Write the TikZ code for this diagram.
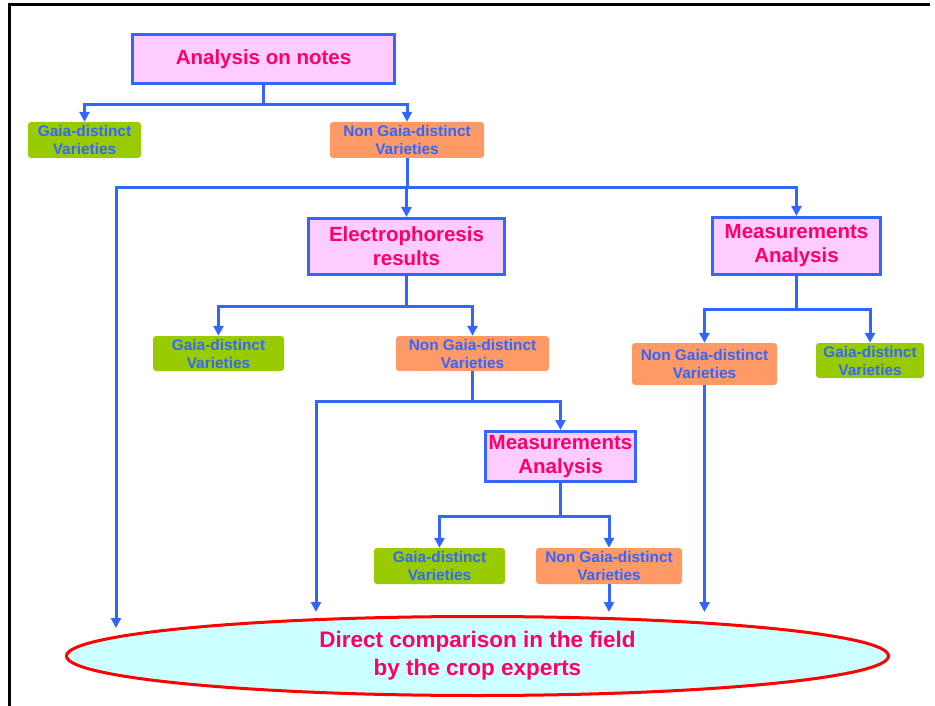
\documentclass[tikz,border=0pt]{standalone}
\usepackage{fontspec}
\setmainfont{Liberation Sans}
\usetikzlibrary{arrows.meta,shapes.geometric,calc}
\definecolor{linkblue}{HTML}{3366FF}
\definecolor{boxpink}{HTML}{FFCCFF}
\definecolor{headred}{HTML}{FF0066}
\definecolor{gaiagreen}{HTML}{99CC00}
\definecolor{nongaiaorange}{HTML}{FF9966}
\definecolor{fieldcyan}{HTML}{CCFFFF}

\begin{document}
\begin{tikzpicture}[x=1pt,y=-1pt,
    conn/.style={draw=linkblue,line width=3pt},
    arr/.style={conn,-{Triangle[length=10pt,width=10pt]}},
    stage/.style={draw=linkblue,line width=3pt,fill=boxpink,text=headred,
      font=\fontsize{20.5}{24}\selectfont\bfseries,align=center,inner sep=0pt},
    variety/.style={rounded corners=3pt,text=linkblue,inner sep=0pt,
      font=\fontsize{15.4}{18}\selectfont\bfseries,align=center,minimum height=36pt},
    gaia/.style={variety,fill=gaiagreen},
    nongaia/.style={variety,fill=nongaiaorange}]
    \useasboundingbox (0,0) rectangle (935,706);
    \draw[line width=3pt] (930,5) -- (9,5) -- (9,706);

    \node[stage,minimum width=262pt,minimum height=49pt] (notes) at (263.5,59) {Analysis on notes};
    \node[gaia,minimum width=113pt] (gaiaA) at (84.5,140) {Gaia-distinct\\Varieties};
    \node[nongaia,minimum width=154pt] (nonA) at (407,140) {Non Gaia-distinct\\Varieties};
    \node[stage,minimum width=196pt,minimum height=56pt] (electro) at (406.5,246.5) {Electrophoresis\\results};
    \node[stage,minimum width=168pt,minimum height=57pt] (measA) at (796.5,246) {Measurements\\Analysis};
    \node[gaia,minimum width=131pt,minimum height=35pt] (gaiaB) at (218.5,353.5) {Gaia-distinct\\Varieties};
    \node[nongaia,minimum width=153pt,minimum height=35pt] (nonB) at (472.5,353.5) {Non Gaia-distinct\\Varieties};
    \node[nongaia,minimum width=145pt,minimum height=42pt] (nonC) at (704.5,364) {Non Gaia-distinct\\Varieties};
    \node[gaia,minimum width=108pt,minimum height=35pt] (gaiaC) at (870,360.5) {Gaia-distinct\\Varieties};
    \node[stage,minimum width=150pt,minimum height=50pt] (measB) at (560.5,456.5) {Measurements\\Analysis};
    \node[gaia,minimum width=131pt] (gaiaD) at (439.5,566) {Gaia-distinct\\Varieties};
    \node[nongaia,minimum width=146pt] (nonD) at (609,566) {Non Gaia-distinct\\Varieties};
    \node[draw=red,line width=3pt,fill=fieldcyan,ellipse,minimum width=822pt,minimum height=79pt,
      inner sep=0pt,text=headred,font=\fontsize{22.5}{28}\selectfont\bfseries,align=center]
      (field) at (477.5,656) {Direct comparison in the field\\by the crop experts};

    \coordinate (endA) at (116,628);
    \coordinate (endB) at (316,612);
    \coordinate (endC) at (609,612);
    \coordinate (endD) at (704.5,612);

    \draw[conn] (notes.south) -- ++(0,20) coordinate (forkA);
    \draw[arr] (forkA) -| (gaiaA);
    \draw[arr] (forkA) -| (nonA);
    \draw[conn] (nonA.south) -- ++(0,29) coordinate (forkB);
    \draw[arr] (forkB) -| (endA);
    \draw[arr] (forkB) -| (electro);
    \draw[arr] (forkB) -| (measA);
    \draw[conn] (electro.south) -- ++(0,30) coordinate (forkC);
    \draw[arr] (forkC) -| (gaiaB);
    \draw[arr] (forkC) -| (nonB);
    \draw[conn] (measA.south) -- ++(0,33) coordinate (forkD);
    \draw[arr] (forkD) -| (nonC);
    \draw[arr] (forkD) -| (gaiaC);
    \draw[conn] (nonB.south) -- ++(0,30) coordinate (forkE);
    \draw[arr] (forkE) -| (endB);
    \draw[arr] (forkE) -| (measB);
    \draw[conn] (measB.south) -- ++(0,33.5) coordinate (forkF);
    \draw[arr] (forkF) -| (gaiaD);
    \draw[arr] (forkF) -| (nonD);
    \draw[arr] (nonD.south) -- (endC);
    \draw[arr] (nonC.south) -- (endD);
\end{tikzpicture}
\end{document}
